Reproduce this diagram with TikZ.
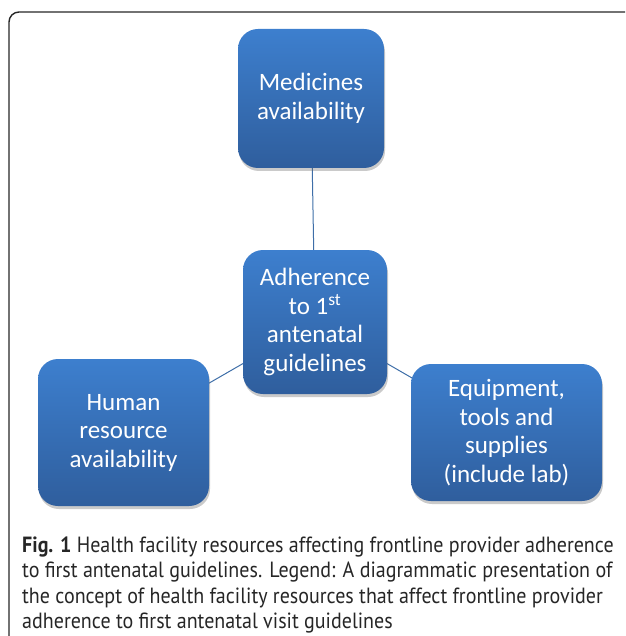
\documentclass[tikz,border=0pt]{standalone}
\usepackage{fontspec}
\setmainfont{Carlito}
\newfontfamily\capfont[FakeStretch=0.91]{PT Sans}
\usetikzlibrary{shadows}
\definecolor{boxtop}{HTML}{3D7FCE}
\definecolor{boxbot}{HTML}{2F5E9D}
\definecolor{linkc}{HTML}{3E6EA8}
\tikzset{
  box/.style={rounded corners=20pt, top color=boxtop, bottom color=boxbot, draw=none,
    drop shadow={shadow xshift=1pt, shadow yshift=-3pt, opacity=0.35, fill=black!60},
    text=white, align=center, font=\fontsize{25}{28.5}\selectfont, inner sep=0pt},
  link/.style={draw=linkc, line width=1pt},
  caption/.style={anchor=base west, inner sep=0pt, font=\capfont\fontsize{22}{26}\selectfont, text=black!85}
}
\begin{document}
\begin{tikzpicture}[x=1pt,y=-1pt]
\useasboundingbox (0,0) rectangle (625,636);
\begin{scope}
\clip (0,0) rectangle (625,636);
\draw[line width=1.4pt, black!85, rounded corners=10pt] (9,12) rectangle (660,680);
\end{scope}
\coordinate (cM) at (311,98.5);
\coordinate (cA) at (315,322);
\coordinate (cH) at (123.5,432.5);
\coordinate (cE) at (506.5,432.5);
\draw[link] (cA) -- (cM);
\draw[link] (cA) -- (cH);
\draw[link] (cA) -- (cE);
\node[box, minimum width=146pt, minimum height=139pt] (med) at (cM) {Medicines\\availability};
\node[box, minimum width=144pt, minimum height=144pt] (adh) at (cA) {Adherence\\to 1\textsuperscript{st}\\antenatal\\guidelines};
\node[box, minimum width=171pt, minimum height=147pt] (hum) at (cH) {Human\\resource\\availability};
\node[box, minimum width=191pt, minimum height=137pt] (equ) at (cE) {Equipment,\\tools and\\supplies\\(include lab)};
\node[caption] (c1) at (22,552) {\textbf{Fig. 1} Health facility resources affecting frontline provider adherence};
\node[caption] (c2) at (22,577.5) {to first antenatal guidelines. Legend: A diagrammatic presentation of};
\node[caption] (c3) at (22,603) {the concept of health facility resources that affect frontline provider};
\node[caption] (c4) at (22,628.5) {adherence to first antenatal visit guidelines};
\end{tikzpicture}
\end{document}
